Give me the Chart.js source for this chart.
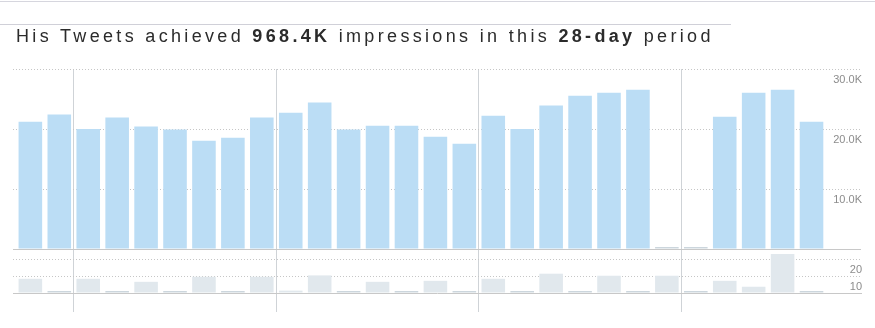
<!DOCTYPE html>
<html>
<head>
<meta charset="utf-8">
<script src="https://cdn.jsdelivr.net/npm/chart.js@4"></script>
<style>
html,body{margin:0;padding:0;background:#fff;}
body{width:875px;height:328px;position:relative;overflow:hidden;font-family:"Liberation Sans",Arial,sans-serif;}
#rule1{position:absolute;left:0;top:1px;width:875px;height:1px;background:#d6d6de;}
#rule2{position:absolute;left:0;top:24px;width:731px;height:1px;background:#d0d0d8;}
#title{position:absolute;left:16px;top:27px;font-size:18px;line-height:18px;letter-spacing:3.33px;color:#2b2b2b;white-space:nowrap;z-index:2;}
#title b{font-weight:bold;}
#wrap{position:absolute;left:0;top:0;width:875px;height:328px;}
</style>
</head>
<body>
<div id="rule1"></div>
<div id="rule2"></div>
<div id="title">His Tweets achieved <b>968.4K</b> impressions in this <b>28-day</b> period</div>
<div id="wrap"><canvas id="c" width="875" height="328"></canvas></div>
<script>
// day positions (28 days)
const days = [0,1,2,3,4,5,6,7,8,9,10,11,12,13,14,15,16,17,18,19,20,21,22,23,24,25,26,27];
// daily impressions (thousands)
const impressionsK = [21.2,22.4,20.0,21.9,20.4,19.9,18.05,18.55,21.9,22.7,24.4,19.9,20.55,20.55,18.7,17.55,22.2,20.0,23.9,25.55,26.05,26.55,0,0,22.05,26.05,26.55,21.2];
// daily tweet counts
const tweets = [8.4,0,8.4,0,6.6,0,9.6,0,9.6,1.4,10.4,0,6.6,0,7.2,0,8.4,0,11.4,0,10.2,0,10.2,0,7.2,3.7,23.1,0];
// week separators (between days)
const weekBoundaries = [1.5,8.5,15.5,22.5];
// tick values
const impressionTicks = [0,10000,20000,30000];
const tweetTicks = [0,10,20];

const BLUE = '#bbddf5', LIGHTGRAY = '#e1e8ed', STUB = '#ccd6dd';
const FONT = '"Liberation Sans", Arial, sans-serif';
Chart.defaults.font.family = FONT;

const impressionsData = days.map((d,i)=>({x:d, y:impressionsK[i]*1000}));
const tweetsData = days.map((d,i)=>({x:d, y:tweets[i]}));

const dash = c => (c.tick && c.tick.value === 0) ? [] : [1,2];

new Chart(document.getElementById('c'), {
  type: 'bar',
  data: {
    datasets: [
      {
        label: 'Impressions', data: impressionsData, xAxisID: 'x', yAxisID: 'y',
        grouped: false, barPercentage: 1, categoryPercentage: 0.815, minBarLength: 2, borderWidth: 0,
        backgroundColor: c => (c.raw && c.raw.y === 0) ? STUB : BLUE
      },
      {
        label: 'Tweets', data: tweetsData, xAxisID: 'x', yAxisID: 'y2',
        grouped: false, barPercentage: 1, categoryPercentage: 0.815, minBarLength: 2, borderWidth: 0,
        backgroundColor: c => (c.raw && c.raw.y === 0) ? STUB : LIGHTGRAY
      }
    ]
  },
  options: {
    responsive: false,
    devicePixelRatio: 1,
    animation: false,
    layout: { padding: { left: 13, right: 12, top: 69, bottom: 16 } },
    plugins: { legend: { display: false }, tooltip: { enabled: false }, title: { display: false } },
    scales: {
      x: {
        type: 'linear', min: -0.6, max: 28.71, bounds: 'data', offset: false,
        afterBuildTicks: s => { s.ticks = weekBoundaries.map(v => ({ value: v })); },
        ticks: { display: false },
        grid: { color: '#cfd3d7', tickColor: '#cfd3d7', tickLength: 19, drawTicks: true, offset: false },
        border: { display: true, color: '#c8c8c8' }
      },
      y: {
        type: 'linear', position: 'right', stack: 'main', stackWeight: 180,
        min: 0, max: 30000,
        afterBuildTicks: s => { s.ticks = impressionTicks.map(v => ({ value: v })); },
        grid: { color: c => (c.tick && c.tick.value === 0) ? '#c8c8c8' : '#c6c6c6', drawTicks: false },
        border: { display: false, dash: dash },
        ticks: {
          autoSkip: false, mirror: true, padding: 1, labelOffset: 11, color: '#8c8c8c', font: { size: 11, family: FONT },
          callback: v => v === 0 ? '' : (v / 1000).toFixed(1) + 'K'
        }
      },
      y2: {
        type: 'linear', position: 'right', stack: 'main', stackWeight: 44,
        min: 0, max: 26,
        afterBuildTicks: s => { s.ticks = tweetTicks.map(v => ({ value: v })); },
        grid: { color: c => (c.tick && c.tick.value === 0) ? 'rgba(0,0,0,0)' : '#c6c6c6', drawTicks: false },
        border: { display: false, dash: dash },
        ticks: {
          autoSkip: false, mirror: true, padding: 1, labelOffset: 11, color: '#8c8c8c', font: { size: 11, family: FONT },
          callback: v => v === 0 ? '' : String(v)
        }
      }
    }
  }
});
</script>
</body>
</html>
